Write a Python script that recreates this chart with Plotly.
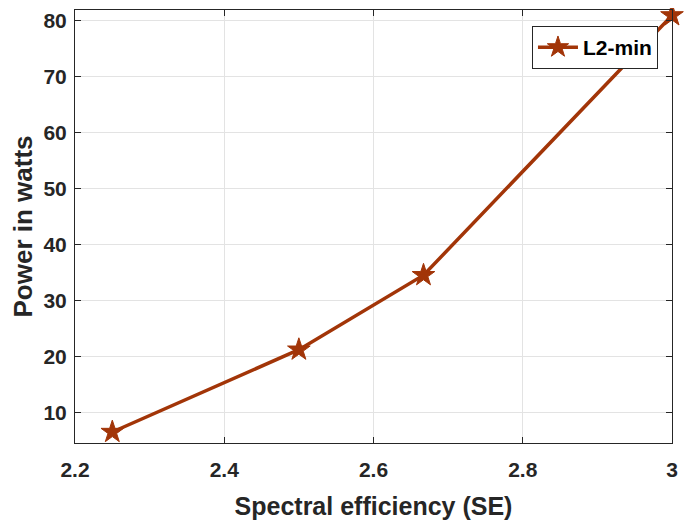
import plotly.graph_objects as go

se = [2.25, 2.5, 2.667, 3.0]
power = [6.6, 21.3, 34.6, 81.0]
x_ticks = [2.2, 2.4, 2.6, 2.8, 3.0]
x_tick_text = ["2.2", "2.4", "2.6", "2.8", "3"]
y_ticks = [10, 20, 30, 40, 50, 60, 70, 80]
series_name = "L2-min"

color = "#A23508"
font_family = "Liberation Sans, Arial, sans-serif"

fig = go.Figure()
fig.add_trace(go.Scatter(
    x=se, y=power, mode="lines+markers", name=series_name,
    line=dict(color=color, width=3.5),
    marker=dict(symbol="star", size=17, color=color, line=dict(color=color, width=1)),
    cliponaxis=False,
))

axis_common = dict(
    showline=True, linecolor="#262626", linewidth=1, mirror="ticks",
    ticks="inside", ticklen=6, tickcolor="#262626",
    showgrid=True, gridcolor="#E3E3E3", gridwidth=1, zeroline=False,
    automargin=False,
    tickfont=dict(family=font_family, size=21, color="#262626", weight="bold"),
)

fig.update_layout(
    width=697, height=523,
    margin=dict(l=67, r=33, t=2, b=88),
    paper_bgcolor="white", plot_bgcolor="white",
    font=dict(family=font_family, color="#262626"),
    showlegend=True,
    legend=dict(
        x=0.9765, y=0.963, xanchor="right", yanchor="top",
        bgcolor="white", bordercolor="#262626", borderwidth=1,
        font=dict(family=font_family, size=21, color="black", weight="bold"),
        itemwidth=40, tracegroupgap=0,
    ),
    xaxis=dict(
        range=[2.2, 3.0], tickvals=x_ticks, ticktext=x_tick_text,
        ticklabelstandoff=8,
        title=dict(text="Spectral efficiency (SE)", font=dict(size=25, family=font_family, color="#262626", weight="bold"), standoff=17),
        **axis_common,
    ),
    yaxis=dict(
        range=[4.64, 81.96], tickvals=y_ticks,
        ticklabelstandoff=3,
        title=dict(text="Power in watts", font=dict(size=26, family=font_family, color="#262626", weight="bold"), standoff=7),
        **axis_common,
    ),
)

fig.write_html("out.html")
